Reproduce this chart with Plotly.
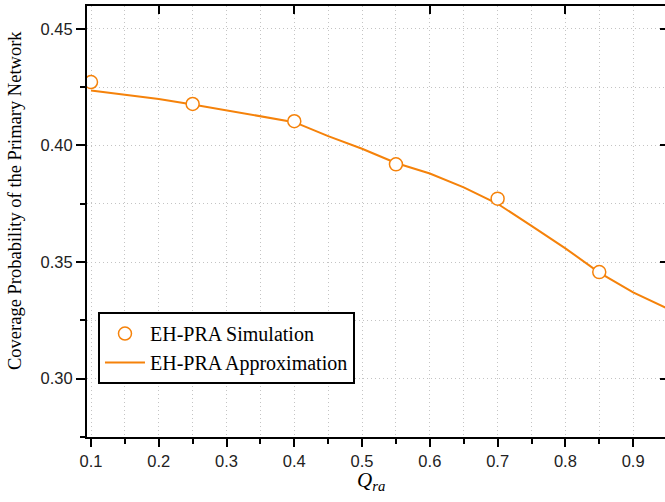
import plotly.graph_objects as go

# Data
sim_x = [0.10, 0.25, 0.40, 0.55, 0.70, 0.85]
sim_y = [0.4272, 0.4178, 0.4104, 0.3919, 0.3772, 0.3457]

approx_x = [0.10, 0.15, 0.20, 0.25, 0.30, 0.35, 0.40, 0.45, 0.50,
            0.55, 0.60, 0.65, 0.70, 0.75, 0.80, 0.85, 0.90, 0.95]
approx_y = [0.4236, 0.4218, 0.4199, 0.4176, 0.4151, 0.4123, 0.4100, 0.4040, 0.3986,
            0.3925, 0.3880, 0.3820, 0.3750, 0.3655, 0.3559, 0.3455, 0.3370, 0.3302]

x_ticks = [0.1, 0.2, 0.3, 0.4, 0.5, 0.6, 0.7, 0.8, 0.9]
x_tick_labels = ["0.1", "0.2", "0.3", "0.4", "0.5", "0.6", "0.7", "0.8", "0.9"]
y_ticks = [0.30, 0.35, 0.40, 0.45]
y_tick_labels = ["0.30", "0.35", "0.40", "0.45"]
top_ticks = [0.2, 0.4, 0.6, 0.8]

ORANGE = "#F5820A"
XR = [0.0941, 0.947]
YR = [0.275, 0.4598]

fig = go.Figure()
fig.add_trace(go.Scatter(
    x=approx_x, y=approx_y, mode="lines", name="EH-PRA Approximation",
    line=dict(color=ORANGE, width=2), legendrank=2))
fig.add_trace(go.Scatter(
    x=sim_x, y=sim_y, mode="markers", name="EH-PRA Simulation",
    marker=dict(symbol="circle", size=13, color="white",
                line=dict(color=ORANGE, width=1.5)), legendrank=1,
    cliponaxis=True))
# helper trace for the mirrored top / right axes
fig.add_trace(go.Scatter(x=[None], y=[None], xaxis="x2", yaxis="y2",
                         showlegend=False, hoverinfo="skip"))

grid = dict(showgrid=True, gridcolor="#c4c4c4", gridwidth=1, griddash="1px,3px")

# plot area: x 87..665, y 6..437
fig.update_layout(
    width=665, height=502,
    margin=dict(l=87, r=0, t=6, b=65),
    paper_bgcolor="white", plot_bgcolor="white",
    showlegend=True,
    legend=dict(x=0.019, y=0.29, xanchor="left", yanchor="top",
                bordercolor="black", borderwidth=2, bgcolor="white",
                font=dict(family="Liberation Serif", size=20, color="black"),
                tracegroupgap=0, itemwidth=40),
    xaxis=dict(range=XR, tickvals=x_ticks, ticktext=x_tick_labels,
               ticks="outside", ticklen=8, tickwidth=2, tickcolor="black",
               showline=True, linecolor="black", linewidth=2, zeroline=False,
               tickfont=dict(family="Liberation Sans", size=16.5, color="#222"),
               minor=dict(dtick=0.05, tick0=0.1, ticks="outside", ticklen=5,
                          tickwidth=2, tickcolor="black", **grid),
               **grid),
    yaxis=dict(range=YR, tickvals=y_ticks, ticktext=y_tick_labels,
               ticks="outside", ticklen=9, tickwidth=2, tickcolor="black",
               showline=True, linecolor="black", linewidth=2, zeroline=False,
               tickfont=dict(family="Liberation Sans", size=16.5, color="#222"),
               minor=dict(dtick=0.025, tick0=0.275, ticks="outside", ticklen=5,
                          tickwidth=2, tickcolor="black", **grid),
               **grid),
    xaxis2=dict(range=XR, overlaying="x", side="top", tickvals=top_ticks,
                ticks="inside", ticklen=8, tickwidth=2, tickcolor="black",
                showticklabels=False, showline=True, linecolor="black",
                linewidth=2, showgrid=False, zeroline=False),
    yaxis2=dict(range=YR, overlaying="y", side="right", tickvals=y_ticks,
                ticks="inside", ticklen=5, tickwidth=2, tickcolor="black",
                showticklabels=False, showline=False, showgrid=False,
                zeroline=False),
    annotations=[
        dict(text="Coverage Probability of the Primary Network",
             xref="paper", yref="paper", x=(15 - 87) / 578, y=(437 - 201) / 431,
             xanchor="center", yanchor="middle", textangle=-90,
             showarrow=False,
             font=dict(family="Liberation Serif", size=18.5, color="black")),
        dict(text="<i>Q</i><sub><i>ra</i></sub>",
             xref="paper", yref="paper", x=(371 - 87) / 578, y=(437 - 481) / 431,
             xanchor="center", yanchor="middle", showarrow=False,
             font=dict(family="Liberation Serif", size=21, color="black")),
    ],
)

fig.write_html("out.html", config={"displayModeBar": False},
               post_script="document.body.style.margin='0';document.body.style.overflow='hidden';")
